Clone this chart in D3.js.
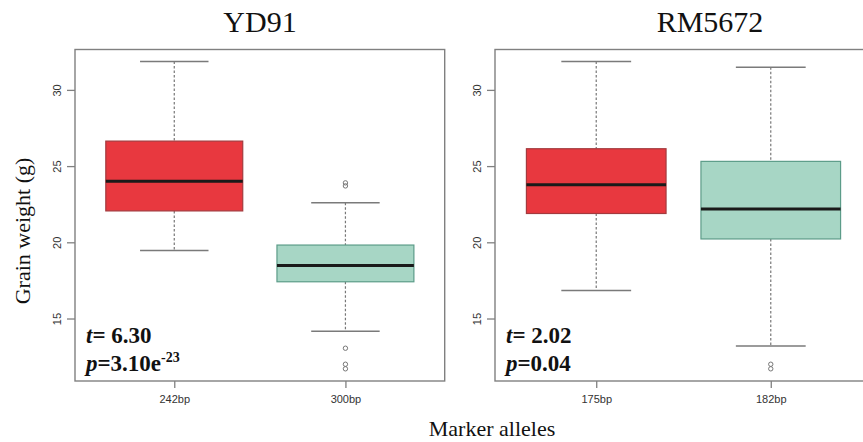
<!DOCTYPE html>
<html>
<head>
<meta charset="utf-8">
<script src="https://cdn.jsdelivr.net/npm/d3@7"></script>
<style>
  body { margin: 0; background: #fff; }
  svg { display: block; }
</style>
</head>
<body>
<div id="chart"></div>
<script>
// chart values
var markers = ["YD91", "RM5672"];
var alleles = [["242bp", "300bp"], ["175bp", "182bp"]];
var whiskerLow = [[19.47, 14.16], [16.84, 13.2]];
var q1 = [[22.06, 17.41], [21.89, 20.22]];
var medians = [[24.01, 18.47], [23.77, 22.19]];
var q3 = [[26.64, 19.82], [26.14, 25.31]];
var whiskerHigh = [[31.86, 22.59], [31.86, 31.49]];
var outliers = [[[], [23.9, 23.7, 13.05, 12.0, 11.7]], [[], [12.0, 11.7]]];
var tValues = ["6.30", "2.02"];
var pValues = [["3.10e", "-23"], ["0.04", ""]];
var yTicks = [15, 20, 25, 30];
var fills = ["#e8383f", "#a7d6c5"];
var strokes = ["#a33a3e", "#5c9c89"];

function init() {
    var w = 863, h = 442;
    var top = 49.5, bottom = 381;
    var panels = [{x0: 75, x1: 444.7}, {x0: 495, x1: 872}]; // right panel runs past the edge

    var svg = d3.select("#chart").append("svg")
        .attr("width", w)
        .attr("height", h);

    var yScale = d3.scaleLinear()
        .domain([10.9, 32.65])
        .range([bottom, top]);

    markers.forEach(function(name, m) {
        var p = panels[m];
        var g = svg.append("g");

        var xScale = d3.scalePoint()
            .domain(alleles[m])
            .range([p.x0, p.x1])
            .padding(0.58);
        var boxW = xScale.step() * 0.8;

        // title
        svg.append("text")
            .attr("x", m == 0 ? 260 : 710)
            .attr("y", 32)
            .attr("text-anchor", "middle")
            .style("font-family", "'Liberation Serif', 'Times New Roman', serif")
            .style("font-size", "30px")
            .attr("fill", "#111")
            .text(name);

        var boxes = alleles[m].map(function(a, i) {
            return {allele: a, i: i, lo: whiskerLow[m][i], q1: q1[m][i], med: medians[m][i],
                    q3: q3[m][i], hi: whiskerHigh[m][i], out: outliers[m][i]};
        });

        var b = g.selectAll(".box").data(boxes).enter().append("g");

        // dashed whiskers
        b.append("line")
            .attr("x1", d => xScale(d.allele)).attr("x2", d => xScale(d.allele))
            .attr("y1", d => yScale(d.hi)).attr("y2", d => yScale(d.q3))
            .attr("stroke", "#777").attr("stroke-width", 1.2).attr("stroke-dasharray", "2.5,2");
        b.append("line")
            .attr("x1", d => xScale(d.allele)).attr("x2", d => xScale(d.allele))
            .attr("y1", d => yScale(d.q1)).attr("y2", d => yScale(d.lo))
            .attr("stroke", "#777").attr("stroke-width", 1.2).attr("stroke-dasharray", "2.5,2");

        // caps
        ["hi", "lo"].forEach(function(k) {
            b.append("line")
                .attr("x1", d => xScale(d.allele) - boxW / 4).attr("x2", d => xScale(d.allele) + boxW / 4)
                .attr("y1", d => yScale(d[k])).attr("y2", d => yScale(d[k]))
                .attr("stroke", "#7a7a7a").attr("stroke-width", 1.5);
        });

        // box
        b.append("rect")
            .attr("x", d => xScale(d.allele) - boxW / 2)
            .attr("width", boxW)
            .attr("y", d => yScale(d.q3))
            .attr("height", d => yScale(d.q1) - yScale(d.q3))
            .attr("fill", d => fills[d.i])
            .attr("stroke", d => strokes[d.i])
            .attr("stroke-width", 1.2);

        // median
        b.append("line")
            .attr("x1", d => xScale(d.allele) - boxW / 2).attr("x2", d => xScale(d.allele) + boxW / 2)
            .attr("y1", d => yScale(d.med)).attr("y2", d => yScale(d.med))
            .attr("stroke", "#1a1a1a").attr("stroke-width", 3);

        // outliers
        b.selectAll("circle")
            .data(d => d.out.map(v => ({allele: d.allele, v: v})))
            .enter().append("circle")
            .attr("cx", d => xScale(d.allele))
            .attr("cy", d => yScale(d.v))
            .attr("r", 2.2)
            .attr("fill", "none")
            .attr("stroke", "#777")
            .attr("stroke-width", 1);

        // frame
        g.append("rect")
            .attr("x", p.x0).attr("y", top)
            .attr("width", p.x1 - p.x0).attr("height", bottom - top)
            .attr("fill", "none").attr("stroke", "#808080").attr("stroke-width", 1.4);

        // x axis
        var xAxis = g.append("g")
            .attr("transform", "translate(0," + bottom + ")")
            .call(d3.axisBottom(xScale).tickSize(7).tickPadding(7));
        xAxis.select(".domain").remove();
        xAxis.selectAll("line").attr("stroke", "#808080").attr("stroke-width", 1.3);
        xAxis.selectAll("text")
            .style("font-family", "'Liberation Sans', Arial, sans-serif")
            .style("font-size", "11px")
            .attr("fill", "#333");

        // y axis
        var yAxis = g.append("g")
            .attr("transform", "translate(" + p.x0 + ",0)")
            .call(d3.axisLeft(yScale).tickValues(yTicks).tickSize(8).tickPadding(0));
        yAxis.select(".domain").remove();
        yAxis.selectAll("line").attr("stroke", "#808080").attr("stroke-width", 1.3);
        yAxis.selectAll("text")
            .attr("x", null).attr("dy", null)
            .attr("transform", "translate(-14,0) rotate(-90)")
            .attr("text-anchor", "middle")
            .style("font-family", "'Liberation Sans', Arial, sans-serif")
            .style("font-size", "11px")
            .attr("fill", "#333");

        // t and p annotations
        var tx = p.x0 + 11;
        var tText = g.append("text")
            .attr("x", tx).attr("y", 343)
            .style("font-family", "'Liberation Serif', 'Times New Roman', serif")
            .style("font-size", "23px")
            .style("font-weight", "bold")
            .attr("fill", "#111");
        tText.append("tspan").style("font-style", "italic").text("t");
        tText.append("tspan").text("= " + tValues[m]);

        var pText = g.append("text")
            .attr("x", tx).attr("y", 371)
            .style("font-family", "'Liberation Serif', 'Times New Roman', serif")
            .style("font-size", "23px")
            .style("font-weight", "bold")
            .attr("fill", "#111");
        pText.append("tspan").style("font-style", "italic").text("p");
        pText.append("tspan").text("=" + pValues[m][0]);
        if (pValues[m][1]) {
            pText.append("tspan")
                .attr("dy", -9)
                .style("font-size", "14px")
                .text(pValues[m][1]);
        }
    });

    // shared axis titles
    svg.append("text")
        .attr("transform", "translate(30,231) rotate(-90)")
        .attr("text-anchor", "middle")
        .style("font-family", "'Liberation Serif', 'Times New Roman', serif")
        .style("font-size", "22px")
        .attr("fill", "#111")
        .text("Grain weight (g)");

    svg.append("text")
        .attr("x", 492)
        .attr("y", 436)
        .attr("text-anchor", "middle")
        .style("font-family", "'Liberation Serif', 'Times New Roman', serif")
        .style("font-size", "22px")
        .attr("fill", "#111")
        .text("Marker alleles");
}

window.onload = init;
</script>
</body>
</html>
